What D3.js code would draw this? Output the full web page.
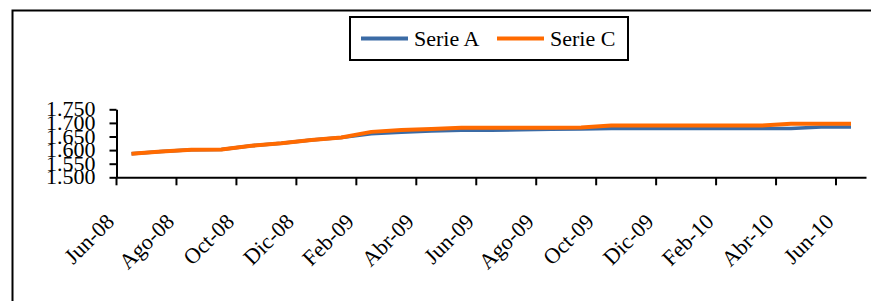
<!DOCTYPE html>
<html>
<head>
<meta charset="utf-8">
<script src="https://cdn.jsdelivr.net/npm/d3@7"></script>
<style>
  html, body { margin: 0; padding: 0; background: #fff; }
  svg { display: block; }
  text { font-family: "Liberation Serif", "DejaVu Serif", serif; fill: #000; }
</style>
</head>
<body>
<svg id="chart" width="871" height="301"></svg>
<script>
const categories = ["Jun-08","Jul-08","Ago-08","Sep-08","Oct-08","Nov-08","Dic-08","Ene-09","Feb-09","Mar-09","Abr-09","May-09",
  "Jun-09","Jul-09","Ago-09","Sep-09","Oct-09","Nov-09","Dic-09","Ene-10","Feb-10","Mar-10","Abr-10","May-10","Jun-10"];
const serieA = [1587,1595,1601,1602,1616,1625,1637,1646,1660,1666,1670,1673,
  1673,1675,1677,1678,1679,1679,1679,1679,1679,1679,1679,1685,1685];
const serieC = [1587,1595,1601,1602,1616,1625,1637,1646,1667,1674,1678,1682,
  1682,1682,1682,1683,1690,1690,1690,1690,1690,1690,1697,1697,1697];
const yTicks = [1500,1550,1600,1650,1700,1750];
const xLabels = categories.filter((c, i) => i % 2 === 0);
const seriesNames = ["Serie A", "Serie C"];
const seriesColors = ["#3B6BA5", "#FF6A00"];

const locale = d3.formatLocale({decimal: ",", thousands: ".", grouping: [3], currency: ["$", ""]});
const fmt = locale.format(",");

const svg = d3.select("#chart");

// outer frame
svg.append("rect")
  .attr("x", 12.5).attr("y", 10.5)
  .attr("width", 900).attr("height", 400)
  .attr("fill", "none").attr("stroke", "#000").attr("stroke-width", 2);

const x = d3.scaleBand().domain(categories).range([116.5, 866]).padding(0);
const y = d3.scaleLinear().domain([1500, 1750]).range([177.3, 109.3]);

// Y axis
const yAxis = svg.append("g")
  .attr("transform", "translate(116.5,0)")
  .call(d3.axisLeft(y).tickValues(yTicks).tickFormat(fmt).tickSize(7).tickSizeOuter(0).tickPadding(14));
yAxis.select(".domain").attr("stroke", "#000").attr("stroke-width", 2);
yAxis.selectAll(".tick line").attr("stroke", "#000").attr("stroke-width", 2);
yAxis.selectAll(".tick text")
  .style("font-family", '"Liberation Serif", serif')
  .style("font-size", "22px")
  .attr("dy", "0.3em");

// X axis
const xAxis = svg.append("g")
  .attr("transform", "translate(0,177.3)")
  .call(d3.axisBottom(x).tickValues(xLabels).tickFormat("").tickSize(8).tickSizeOuter(0));
xAxis.selectAll(".tick").attr("transform", d => `translate(${x(d)},0)`);
xAxis.select(".domain").attr("stroke", "#000").attr("stroke-width", 2);
xAxis.selectAll(".tick line").attr("stroke", "#000").attr("stroke-width", 2);

// X labels rotated
svg.append("g").selectAll("text")
  .data(xLabels)
  .join("text")
  .attr("transform", d => `translate(${x(d) - 1},223) rotate(-45)`)
  .attr("text-anchor", "end")
  .style("font-family", '"Liberation Serif", serif')
  .style("font-size", "22px")
  .text(d => d);

// lines
const line = d3.line()
  .x((d, i) => x(categories[i]) + x.bandwidth() / 2)
  .y(d => y(d));

svg.append("path").datum(serieA)
  .attr("d", line).attr("fill", "none")
  .attr("stroke", seriesColors[0]).attr("stroke-width", 3.5).attr("stroke-linejoin", "round");
svg.append("path").datum(serieC)
  .attr("d", line).attr("fill", "none")
  .attr("stroke", seriesColors[1]).attr("stroke-width", 4).attr("stroke-linejoin", "round");

// legend
const lg = svg.append("g");
lg.append("rect")
  .attr("x", 350).attr("y", 17).attr("width", 278).attr("height", 43)
  .attr("fill", "#fff").attr("stroke", "#000").attr("stroke-width", 2);
const legendItems = [{x: 361, name: seriesNames[0], color: seriesColors[0]},
                     {x: 497, name: seriesNames[1], color: seriesColors[1]}];
legendItems.forEach(it => {
  lg.append("line")
    .attr("x1", it.x).attr("x2", it.x + 47)
    .attr("y1", 38.5).attr("y2", 38.5)
    .attr("stroke", it.color).attr("stroke-width", 4);
  lg.append("text")
    .attr("x", it.x + 53).attr("y", 46)
    .style("font-size", "22px")
    .text(it.name);
});
</script>
</body>
</html>
